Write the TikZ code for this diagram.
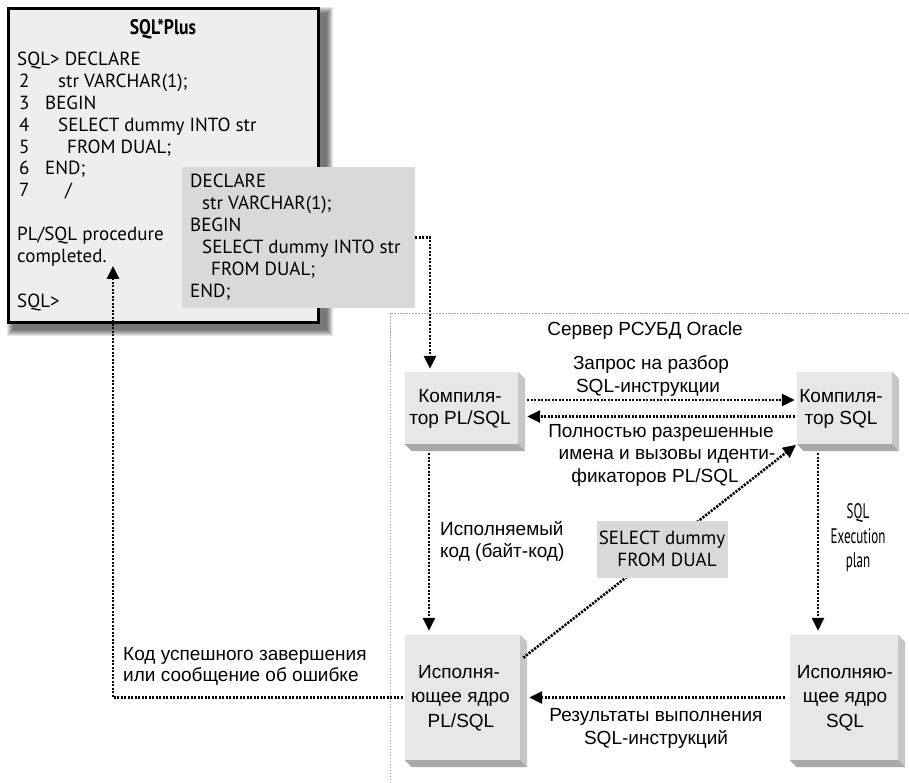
\documentclass[tikz,border=0pt]{standalone}
\usepackage{fontspec}
\setmainfont{Liberation Sans}
\newfontfamily\myr{PT Sans}
\newfontfamily\myrc[FakeStretch=0.62]{PT Sans}
\newfontfamily\myrt[FakeStretch=0.84]{PT Sans}
\usetikzlibrary{arrows.meta}
\definecolor{plusbg}{HTML}{EEEEEE}
\definecolor{codebg}{HTML}{D9D9D9}
\definecolor{facebg}{HTML}{E7E7E7}
\definecolor{sidebg}{HTML}{C6C6C6}
\definecolor{botbg}{HTML}{A9A9A9}
\definecolor{srvline}{HTML}{B4B4B4}
\tikzset{
  codetxt/.style={font=\myr\fontsize{19}{21.8}\selectfont, anchor=base west, inner sep=0},
  codectr/.style={font=\myr\fontsize{19}{21.8}\selectfont, anchor=base, inner sep=0},
  lbl/.style={font=\fontsize{19}{23}\selectfont, anchor=base, inner sep=0},
  lblw/.style={font=\fontsize{19}{23}\selectfont, anchor=base west, inner sep=0},
  cond/.style={font=\myrc\fontsize{21}{24}\selectfont, anchor=base, inner sep=0},
  face/.style={fill=facebg, inner sep=0},
  flow/.style={line width=2.6pt, dash pattern=on 2.2pt off 1.3pt,
    -{Triangle[length=13pt,width=12pt]}},
  srv/.style={srvline, line width=1pt, dash pattern=on 1.5pt off 1.5pt}
}
\begin{document}
\begin{tikzpicture}[x=1pt,y=-1pt]
\useasboundingbox (0,0) rectangle (909,783);
% server area
\draw[srv] (390,783) -- (390,313) -- (909,313);
% SQL*Plus window shadow
\foreach \k in {7,6,5,4,3,2,1}
  \fill[black,opacity=0.1] ({14-\k},{14-\k}) rectangle ({326+\k},{329+\k});
\node[draw=black, line width=3pt, fill=plusbg, inner sep=0,
  minimum width=309.5, minimum height=313.5] (sp) at (163.25,165.25) {};
\node[font=\myrt\bfseries\fontsize{21}{22}\selectfont, anchor=base, inner sep=0] (title) at (163,35) {SQL*Plus};
\node[codetxt] (l1) at (17,66) {SQL> DECLARE};
\node[codetxt] (n2) at (19,88) {2};
\node[codetxt] (c2) at (58,88) {str VARCHAR(1);};
\node[codetxt] (n3) at (19,109.6) {3};
\node[codetxt] (c3) at (45,109.6) {BEGIN};
\node[codetxt] (n4) at (19,131.4) {4};
\node[codetxt] (c4) at (58,131.4) {SELECT dummy INTO str};
\node[codetxt] (n5) at (19,153.2) {5};
\node[codetxt] (c5) at (67,153.2) {FROM DUAL;};
\node[codetxt] (n6) at (19,175) {6};
\node[codetxt] (c6) at (45,175) {END;};
\node[codetxt] (n7) at (19,196.8) {7};
\node[codetxt] (c7) at (65,196.8) {/};
\node[codetxt] (p1) at (17,240.4) {PL/SQL procedure};
\node[codetxt] (p2) at (17,262.2) {completed.};
\node[codetxt] (p3) at (17,307) {SQL>};
% code block
\node[fill=codebg, inner sep=0, minimum width=233, minimum height=141] (cb) at (298.5,237.5) {};
\node[codetxt] (d1) at (190,188) {DECLARE};
\node[codetxt] (d2) at (202,210) {str VARCHAR(1);};
\node[codetxt] (d3) at (190,232) {BEGIN};
\node[codetxt] (d4) at (202,254) {SELECT dummy INTO str};
\node[codetxt] (d5) at (211,276) {FROM DUAL;};
\node[codetxt] (d6) at (190,297.5) {END;};
% server label
\node[lbl] (srvname) at (645,335) {Сервер РСУБД Oracle};
% 3D boxes
\node[face, minimum width=113, minimum height=72] (b1) at (461.5,408) {};
\node[face, minimum width=95, minimum height=72] (b2) at (844.5,408) {};
\node[face, minimum width=115, minimum height=125] (b3) at (462.5,697.5) {};
\node[face, minimum width=108, minimum height=125] (b4) at (844,697.5) {};
\foreach \b in {b1,b2,b3,b4}{
  \fill[sidebg] (\b.north east) -- ++(7,7) -- ([shift={(7,7)}]\b.south east) -- (\b.south east) -- cycle;
  \fill[botbg] (\b.south west) -- ++(7,7) -- ([shift={(7,7)}]\b.south east) -- (\b.south east) -- cycle;
}
\node[lbl] (b1a) at (460,402) {Компиля-};
\node[lbl] (b1b) at (460,424) {тор PL/SQL};
\node[lbl] (b2a) at (841,402) {Компиля-};
\node[lbl] (b2b) at (841,424) {тор SQL};
\node[lbl] (b3a) at (459,678) {Исполня-};
\node[lbl] (b3b) at (460.5,702.5) {ющее ядро};
\node[lbl] (b3c) at (461,727) {PL/SQL};
\node[lbl] (b4a) at (845,678) {Исполняю-};
\node[lbl] (b4b) at (845,702.5) {щее ядро};
\node[lbl] (b4c) at (845,727) {SQL};
% diagonal (behind the SELECT box)
\coordinate (ret) at (113,266);
\draw[flow, shorten >=1pt] ([xshift=3pt,yshift=-23pt]b3.north east) -- (b2.south west);
\node[fill=codebg, inner sep=0, minimum width=131, minimum height=57] (sd) at (662.5,549.5) {};
\node[codectr] (s1) at (662,544) {SELECT dummy};
\node[codectr] (s2) at (667,566) {FROM DUAL};
% flows
\draw[flow, shorten >=3pt] (cb.east) -| ([xshift=-31.5pt]b1.north);
\draw[flow, shorten >=2pt] ([xshift=9pt,yshift=8pt]b1.east) -- ([yshift=8pt]b2.west);
\draw[flow] ([xshift=-2pt,yshift=-8.5pt]b2.west) -- ([xshift=9pt,yshift=-8.5pt]b1.east);
\draw[flow, shorten >=4pt] ([xshift=-32.5pt,yshift=-9pt]b1.south) -- ([xshift=-33.5pt]b3.north);
\draw[flow, shorten >=4pt] ([xshift=-26.5pt,yshift=-9pt]b2.south) -- ([xshift=-26pt]b4.north);
\draw[flow] ([xshift=-5pt]b4.west) -- ([xshift=9pt]b3.east);
\draw[flow] ([xshift=-2pt]b3.west) -| (ret);
% labels
\node[lbl] (q1) at (651,369.5) {Запрос на разбор};
\node[lbl] (q2) at (648,392.5) {SQL-инструкции};
\node[lbl] (r1) at (661,437) {Полностью разрешенные};
\node[lbl] (r2) at (667,459.5) {имена и вызовы иденти-};
\node[lbl] (r3) at (655,482) {фикаторов PL/SQL};
\node[lblw] (e1) at (440,535) {Исполняемый};
\node[lblw] (e2) at (440,557) {код (байт-код)};
\node[cond] (x1) at (858,518) {SQL};
\node[cond] (x2) at (858,543) {Execution};
\node[cond] (x3) at (858,567) {plan};
\node[lbl] (z1) at (656,721) {Результаты выполнения};
\node[lbl] (z2) at (656,744) {SQL-инструкций};
\node[lblw] (k1) at (123,660) {Код успешного завершения};
\node[lblw] (k2) at (123,681) {или сообщение об ошибке};
\end{tikzpicture}
\end{document}
